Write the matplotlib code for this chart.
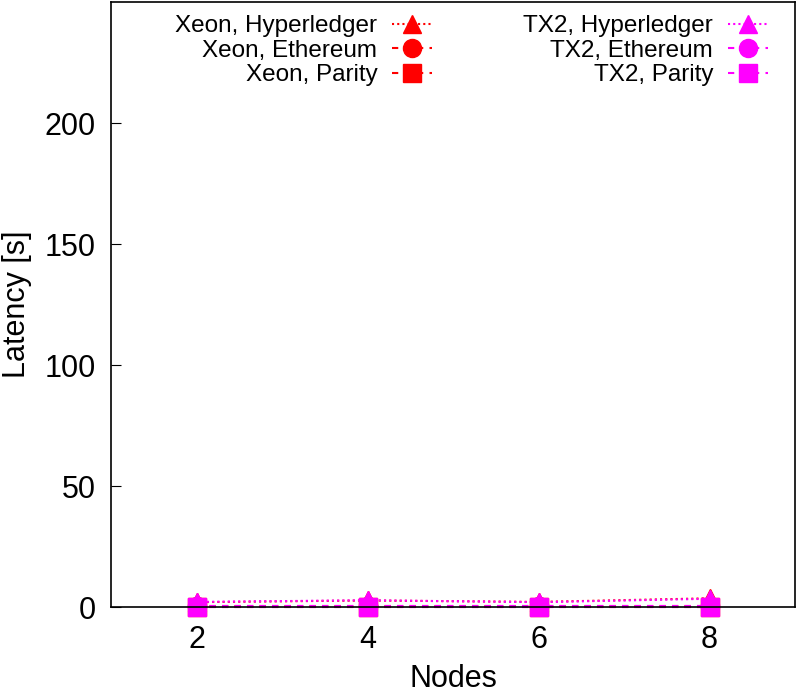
import matplotlib
matplotlib.use('Agg')
import matplotlib.pyplot as plt

plt.rcParams['font.family'] = ['Liberation Sans', 'DejaVu Sans']

# Daten
nodes = [2, 4, 6, 8]
xeon_hyperledger = [2.0, 2.7, 2.1, 3.6]
xeon_ethereum = [0.3, 0.3, 0.3, 0.3]
xeon_parity = [0.1, 0.1, 0.1, 0.1]
tx2_hyperledger = [2.1, 2.8, 2.0, 3.4]
tx2_ethereum = [0.4, 0.4, 0.4, 0.4]
tx2_parity = [0.15, 0.15, 0.15, 0.15]

labels = ['Xeon, Hyperledger', 'Xeon, Ethereum', 'Xeon, Parity',
          'TX2, Hyperledger', 'TX2, Ethereum', 'TX2, Parity']
series = [xeon_hyperledger, xeon_ethereum, xeon_parity,
          tx2_hyperledger, tx2_ethereum, tx2_parity]
colors = ['#ff0000'] * 3 + ['#ff00ff'] * 3
markers = ['^', 'o', 's'] * 2
styles = [(0, (1, 1.5)), (0, (3, 3)), (0, (3, 3))] * 2

fig = plt.figure(figsize=(7.97, 6.95), dpi=100)
ax = fig.add_axes([0.1393, 0.1266, 0.8582, 0.8705])

for y, lab, c, m, ls in zip(series, labels, colors, markers, styles):
    ax.plot(nodes, y, color=c, marker=m, linestyle=ls, linewidth=1.5,
            markersize=13, label=lab, clip_on=False)

ax.set_xlim(1, 9)
ax.set_ylim(0, 250)
ax.set_xticks(nodes)
ax.set_yticks([0, 50, 100, 150, 200])
ax.tick_params(direction='in', length=7, labelsize=22)
ax.tick_params(axis='x', pad=13)
ax.tick_params(axis='y', pad=11)
ax.set_xlabel('Nodes', fontsize=22, va='top')
ax.set_ylabel('Latency [s]', fontsize=22)
ax.xaxis.set_label_coords(0.5, -0.094)
ax.yaxis.set_label_coords(-0.116, 0.5)
for s in ax.spines.values():
    s.set_linewidth(1.2)

ax.legend(ncol=2, loc='upper right', bbox_to_anchor=(0.985, 1.006), frameon=False,
          markerfirst=False, fontsize=17.5, handlelength=1.65, handletextpad=0.6,
          columnspacing=3.75, labelspacing=0.1, borderaxespad=0.3)

fig.savefig('out.png', dpi=100)
